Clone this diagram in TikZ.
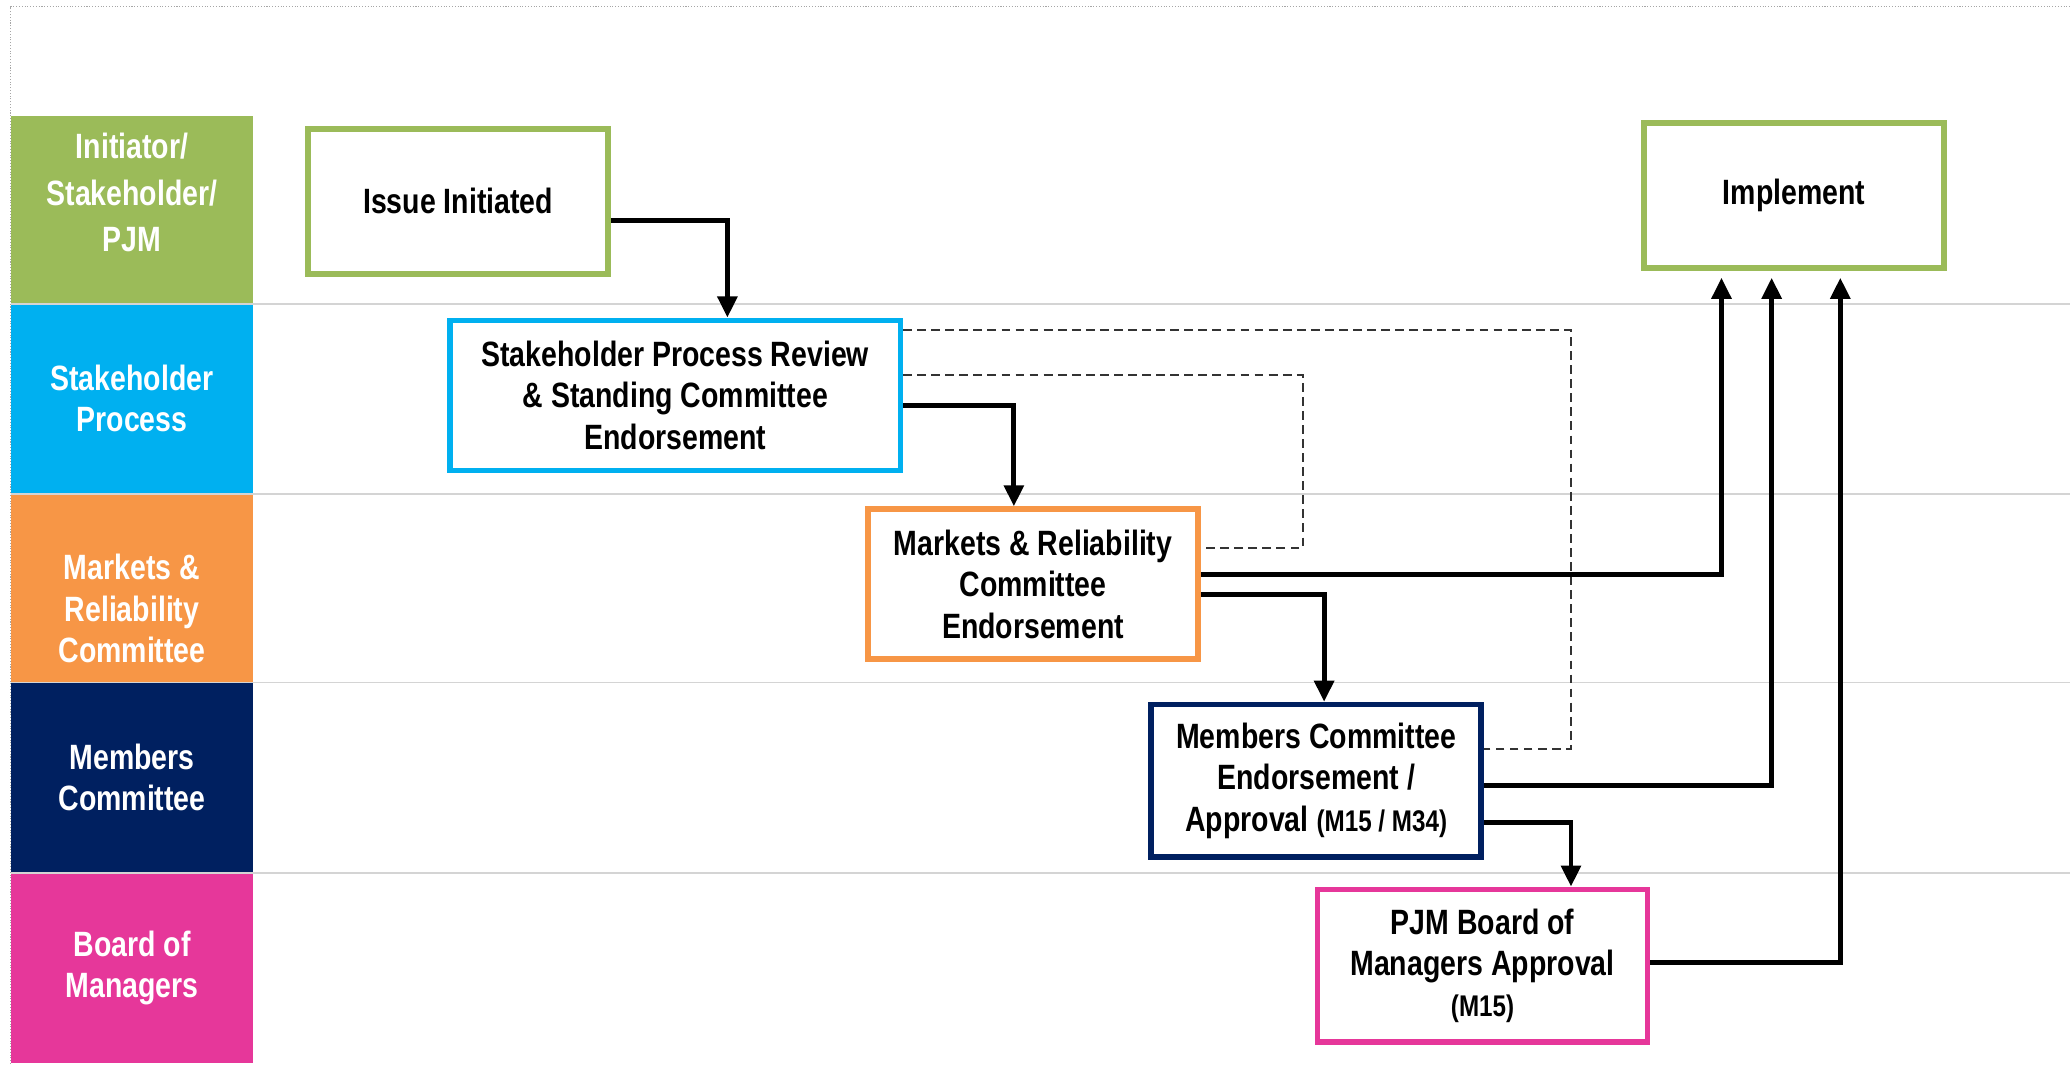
\documentclass[tikz,border=0pt]{standalone}
\usepackage{fontspec}
\newfontfamily\nar{Liberation Sans}[FakeStretch=0.81,BoldFeatures={FakeStretch=0.81}]
\usetikzlibrary{arrows.meta,calc}
\definecolor{cgreen}{HTML}{9BBB59}
\definecolor{cblue}{HTML}{00B0F0}
\definecolor{corange}{HTML}{F79646}
\definecolor{cnavy}{HTML}{002060}
\definecolor{cpink}{HTML}{E6379A}
\definecolor{csep}{HTML}{D4D4D4}
\tikzset{
  txt/.style={font=\nar\bfseries\fontsize{20}{23.5}\selectfont, align=center},
  lanelabel/.style={txt, text=white},
  stepbox/.style={txt, draw, line width=3.2pt, fill=white, inner sep=0pt},
  flow/.style={line width=2.8pt, -{Triangle[length=12pt,width=11pt]}},
  dashlink/.style={line width=1.1pt, draw=black!80, dash pattern=on 5pt off 3pt},
  sep/.style={draw=csep, line width=1pt}
}
\begin{document}
\begin{tikzpicture}[x=0.0264cm, y=-0.0264cm]
\useasboundingbox (0,0) rectangle (1568,807);
% outer dotted frame
\draw[black!35, densely dotted, line width=0.6pt] (8,806) -- (8,5) -- (1568,5);
% lane cells
\fill[cgreen]  (8,88)  rectangle (192,230);
\fill[cblue]   (8,230) rectangle (192,374);
\fill[corange] (8,374) rectangle (192,517);
\fill[cnavy]   (8,517) rectangle (192,661);
\fill[cpink]   (8,661) rectangle (192,805);
% separators
\foreach \yy in {230,374,517,661} \draw[sep] (8,\yy) -- (1568,\yy);
% lane labels
\node[lanelabel] (l1) at (100,146) {Initiator/\\[3pt]Stakeholder/\\[3pt]PJM};
\node[lanelabel] (l2) at (100,302) {Stakeholder\\Process};
\node[lanelabel] (l3) at (100,461) {Markets \&\\Reliability\\Committee};
\node[lanelabel] (l4) at (100,589) {Members\\Committee};
\node[lanelabel] (l5) at (100,733) {Board of\\Managers};
% boxes
\node[stepbox, draw=cgreen, minimum width=6.0cm, minimum height=2.9cm] (iss) at (347,152.5) {Issue Initiated};
\node[stepbox, draw=cgreen, minimum width=6.0cm, minimum height=2.9cm] (imp) at (1359,148) {Implement};
\node[stepbox, draw=cblue, minimum width=9.0cm, minimum height=3.0cm] (spr) at (511.5,299.5) {Stakeholder Process Review\\\& Standing Committee\\Endorsement};
\node[stepbox, draw=corange, minimum width=6.6cm, minimum height=3.0cm] (mrc) at (782.5,442.5) {Markets \& Reliability\\Committee\\Endorsement};
\node[stepbox, draw=cnavy, minimum width=6.6cm, minimum height=3.05cm] (mc) at (997,591.5) {Members Committee\\Endorsement /\\Approval {\fontsize{17}{23.5}\selectfont(M15 / M34)}};
\node[stepbox, draw=cpink, minimum width=6.6cm, minimum height=3.05cm] (bom) at (1123,731.5) {PJM Board of\\Managers Approval\\{\fontsize{17}{23.5}\selectfont(M15)}};
% dashed feedback links
\draw[dashlink] (spr.east |- 0,250) -- (1190,250) -- (1190,567) -- (mc.east |- 0,567);
\draw[dashlink] (spr.east |- 0,284) -- (987,284) -- (987,415) -- (mrc.east |- 0,415);
% main flow
\draw[flow] (iss.east |- 0,167) -| (551,0 |- spr.north);
\draw[flow] (spr.east |- 0,307) -| (768,0 |- mrc.north);
\draw[flow] (mrc.east |- 0,450) -| (1003,0 |- mc.north);
\draw[flow] (mc.east |- 0,623) -| (1190,0 |- bom.north);
% to implement
\draw[flow, shorten >=4pt] (mrc.east |- 0,435) -| (1304,0 |- imp.south);
\draw[flow, shorten >=4pt] (mc.east |- 0,595) -| (1342,0 |- imp.south);
\draw[flow, shorten >=4pt] (bom.east |- 0,729) -| (1394,0 |- imp.south);
\end{tikzpicture}
\end{document}
